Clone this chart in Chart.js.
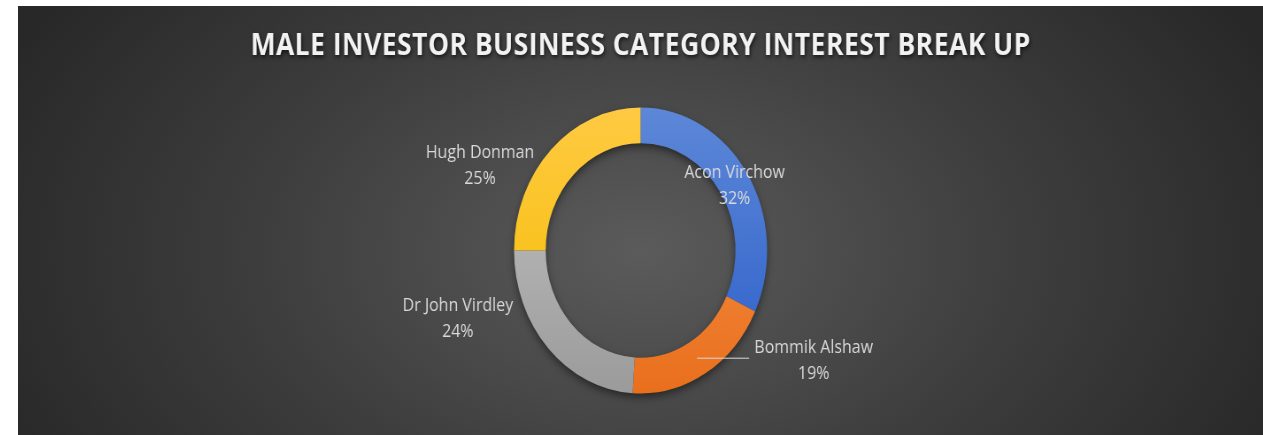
<!DOCTYPE html>
<html lang="en">
<head>
  <meta charset="UTF-8">
  <title>Male Investor Business Category Interest Break Up</title>
  <script src="https://cdn.jsdelivr.net/npm/chart.js@4.4.1/dist/chart.umd.min.js"></script>
  <style>
    body { margin: 0; background: #fff; }
    #frame {
      position: absolute; left: 18px; top: 6px; width: 1245px; height: 429px; overflow: hidden;
      background: radial-gradient(ellipse 700px 450px at 50% 57%, #5b5b5b 0%, #3d3d3d 55%, #282828 100%);
    }
    /* the original chart is a little squeezed sideways, so stretch the canvas back */
    #stretch { width: 1407px; height: 429px; transform: scaleX(0.885); transform-origin: 0 0; }
  </style>
</head>
<body>
  <div id="frame">
    <div id="stretch"><canvas id="myChart"></canvas></div>
  </div>
  <script>
    const investors = ['Acon Virchow', 'Bommik Alshaw', 'Dr John Virdley', 'Hugh Donman'];
    const interestShare = [32, 19, 24, 25];

    // gradient colours for each slice (top of ring -> bottom of ring)
    const sliceTop = ['#5d88d8', '#f99a55', '#c6c6c6', '#ffca42'];
    const sliceBottom = ['#2b5ec9', '#e96f1c', '#9b9b9b', '#f4bc00'];

    // where each label sits, relative to its slice (angle shift in degrees, radius as a share of outer radius)
    const labelPlace = [
      { shift: 1, r: 0.87, leader: false },
      { shift: -30, r: 1.57, leader: true },
      { shift: 25, r: 1.52, leader: false },
      { shift: -20, r: 1.40, leader: false }
    ];

    const shadows = {
      id: 'shadows',
      beforeDraw(chart) {
        // soft shadow and a bit of tracking for the title
        const ctx = chart.ctx;
        ctx.save();
        ctx.shadowColor = 'rgba(0,0,0,0.7)';
        ctx.shadowBlur = 4;
        ctx.shadowOffsetX = 1;
        ctx.shadowOffsetY = 2;
        ctx.letterSpacing = '0.5px';
      },
      beforeDatasetsDraw(chart) {
        const ctx = chart.ctx;
        ctx.restore();
        const arc = chart.getDatasetMeta(0).data[0];
        if (!arc) return;
        const p = arc.getProps(['x', 'y', 'innerRadius', 'outerRadius'], true);
        ctx.save();
        ctx.shadowColor = 'rgba(0,0,0,0.55)';
        ctx.shadowBlur = 10;
        ctx.shadowOffsetY = 4;
        ctx.fillStyle = '#3a3a3a';
        ctx.beginPath();
        ctx.arc(p.x, p.y, p.outerRadius - 1, 0, Math.PI * 2);
        ctx.arc(p.x, p.y, p.innerRadius + 1, 0, Math.PI * 2, true);
        ctx.fill();
        ctx.restore();
      }
    };

    const sliceLabels = {
      id: 'sliceLabels',
      afterDatasetsDraw(chart) {
        const ctx = chart.ctx;
        const data = chart.data.datasets[0].data;
        const total = data.reduce((a, b) => a + b, 0);
        ctx.save();
        ctx.font = '18px "Open Sans"';
        ctx.fillStyle = '#d9d9d9';
        ctx.strokeStyle = '#d9d9d9';
        ctx.textAlign = 'center';
        ctx.textBaseline = 'middle';
        chart.getDatasetMeta(0).data.forEach((arc, i) => {
          const p = arc.getProps(['x', 'y', 'startAngle', 'endAngle', 'innerRadius', 'outerRadius'], true);
          const mid = (p.startAngle + p.endAngle) / 2;
          const place = labelPlace[i];
          const a = mid + place.shift * Math.PI / 180;
          const cx = p.x + Math.cos(a) * p.outerRadius * place.r;
          const cy = p.y + Math.sin(a) * p.outerRadius * place.r;
          const name = chart.data.labels[i];
          ctx.fillText(name, cx, cy - 13);
          ctx.fillText(Math.round(data[i] / total * 100) + '%', cx, cy + 13);
          if (place.leader) {
            const ringR = (p.innerRadius + p.outerRadius) / 2;
            const sx = p.x + Math.cos(mid) * ringR;
            const sy = p.y + Math.sin(mid) * ringR;
            const ex = cx - ctx.measureText(name).width / 2 - 6;
            ctx.lineWidth = 1;
            ctx.beginPath();
            ctx.moveTo(sx, sy);
            ctx.lineTo(ex, sy);
            ctx.stroke();
          }
        });
        ctx.restore();
      }
    };

    const ctx = document.getElementById('myChart').getContext('2d');
    const myChart = new Chart(ctx, {
      type: 'doughnut',
      data: {
        labels: investors,
        datasets: [{
          data: interestShare,
          backgroundColor(c) {
            const area = c.chart.chartArea;
            if (!area) return sliceTop[c.dataIndex];
            const g = c.chart.ctx.createLinearGradient(0, area.top, 0, area.bottom);
            g.addColorStop(0, sliceTop[c.dataIndex]);
            g.addColorStop(1, sliceBottom[c.dataIndex]);
            return g;
          },
          borderWidth: 0,
          hoverOffset: 0
        }]
      },
      options: {
        responsive: true,
        maintainAspectRatio: false,
        animation: false,
        cutout: '75%',
        layout: { padding: { top: 0, bottom: 41.5, left: 0, right: 0 } },
        plugins: {
          legend: { display: false },
          tooltip: { enabled: false },
          title: {
            display: true,
            text: 'MALE INVESTOR BUSINESS CATEGORY INTEREST BREAK UP',
            color: '#f2f2f2',
            font: { family: 'Open Sans', size: 30, weight: 'bold' },
            padding: { top: 22, bottom: 43.5 }
          }
        }
      },
      plugins: [shadows, sliceLabels]
    });
  </script>
</body>
</html>
